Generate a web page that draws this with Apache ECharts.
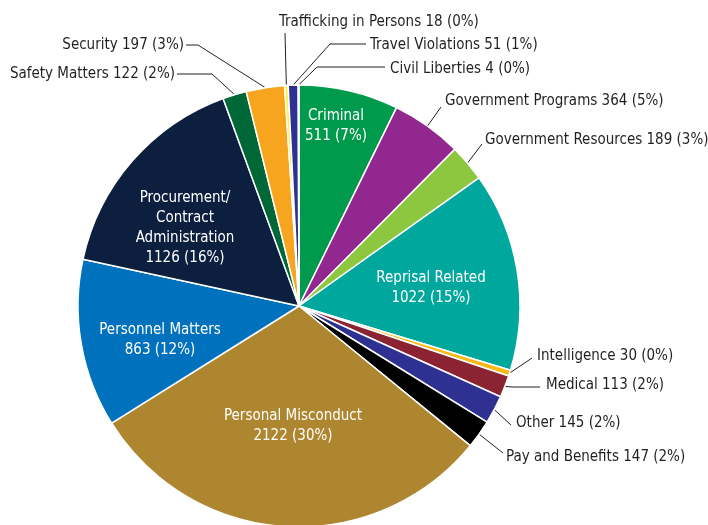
<!DOCTYPE html>
<html>
<head>
<meta charset="utf-8">
<script src="https://cdn.jsdelivr.net/npm/echarts@6/dist/echarts.min.js"></script>
<style>
  html, body { margin: 0; padding: 0; background: #fff; }
  #main { width: 708px; height: 525px; }
</style>
</head>
<body>
<div id="main"></div>
<script>
// complaint categories, clockwise from 12 o'clock
const categories = [
  'Criminal', 'Government Programs', 'Government Resources', 'Reprisal Related',
  'Intelligence', 'Medical', 'Other', 'Pay and Benefits', 'Personal Misconduct',
  'Personnel Matters', 'Procurement/Contract Administration', 'Safety Matters',
  'Security', 'Trafficking in Persons', 'Travel Violations', 'Civil Liberties'
];
const values = [511, 364, 189, 1022, 30, 113, 145, 147, 2122, 863, 1126, 122, 197, 18, 51, 4];
const colors = [
  '#009a4c', '#92278f', '#8dc63f', '#00a79d', '#fdb913', '#8b2332', '#2e3192', '#000000',
  '#ad862f', '#0071bc', '#0c1f3e', '#006837', '#f7a51f', '#fff23a', '#2e3192', '#b9dfd9'
];
const insideLabels = ['Criminal', 'Reprisal Related', 'Personal Misconduct', 'Personnel Matters',
  'Procurement/Contract Administration'];

// where each label sits; for outside ones also the bend of the leader line
const labelSpots = {
  'Criminal': { x: 336, y: 126 },
  'Reprisal Related': { x: 431, y: 288 },
  'Personal Misconduct': { x: 293, y: 426 },
  'Personnel Matters': { x: 160, y: 340 },
  'Procurement/Contract Administration': { x: 185, y: 228 },
  'Government Programs': { x: 445, y: 101, line: [[441, 107]] },
  'Government Resources': { x: 485, y: 140, line: [[482, 144]] },
  'Intelligence': { x: 537, y: 356, line: [[532, 358]] },
  'Medical': { x: 546, y: 385, line: [[513, 387], [540, 387]] },
  'Other': { x: 516, y: 423, line: [[511, 425]] },
  'Pay and Benefits': { x: 506, y: 457, line: [[503, 453]] },
  'Safety Matters': { x: 175, y: 74, align: 'right', line: [[212, 74], [177, 74]] },
  'Security': { x: 184, y: 45, align: 'right', line: [[198, 45], [186, 45]] },
  'Trafficking in Persons': { x: 279, y: 22, line: [[285, 33]] },
  'Travel Violations': { x: 370, y: 45, line: [[330, 44], [366, 44]] },
  'Civil Liberties': { x: 390, y: 69, line: [[317, 67], [385, 67]] }
};

const font = "'Liberation Sans Narrow', 'Arial Narrow', 'DejaVu Sans Condensed', sans-serif";

const chart = echarts.init(document.getElementById('main'));

const data = categories.map(function (name, i) {
  const inside = insideLabels.indexOf(name) >= 0;
  return {
    name: name,
    value: values[i],
    itemStyle: { color: colors[i] },
    label: inside
      ? { position: 'inside', color: '#fff', align: 'center', lineHeight: 20 }
      : { position: 'outside', color: '#231f20' },
    labelLine: { show: !inside }
  };
});

chart.setOption({
  animation: false,
  series: [{
    type: 'pie',
    center: [299, 306],
    radius: 221,
    startAngle: 90,
    clockwise: true,
    avoidLabelOverlap: false,
    percentPrecision: 0,
    data: data,
    itemStyle: { borderColor: '#fff', borderWidth: 1.5 },
    emphasis: { disabled: true },
    label: {
      fontFamily: font,
      fontSize: 15,
      formatter: function (p) {
        if (insideLabels.indexOf(p.name) >= 0) {
          const name = p.name === 'Procurement/Contract Administration'
            ? 'Procurement/\nContract\nAdministration' : p.name;
          return name + '\n' + p.value + ' (' + p.percent + '%)';
        }
        return p.name + ' ' + p.value + ' (' + p.percent + '%)';
      }
    },
    labelLine: {
      lineStyle: { color: '#231f20', width: 1 }
    },
    labelLayout: function (params) {
      const name = categories[params.dataIndex];
      const spot = labelSpots[name];
      if (!spot.line) {
        return { x: spot.x, y: spot.y, align: 'center', verticalAlign: 'middle' };
      }
      const start = params.labelLinePoints ? params.labelLinePoints[0] : spot.line[0];
      const pts = [start].concat(spot.line);
      while (pts.length < 3) pts.push(pts[pts.length - 1]);
      return {
        x: spot.x,
        y: spot.y,
        align: spot.align || 'left',
        verticalAlign: 'middle',
        labelLinePoints: pts
      };
    }
  }]
});
</script>
</body>
</html>
